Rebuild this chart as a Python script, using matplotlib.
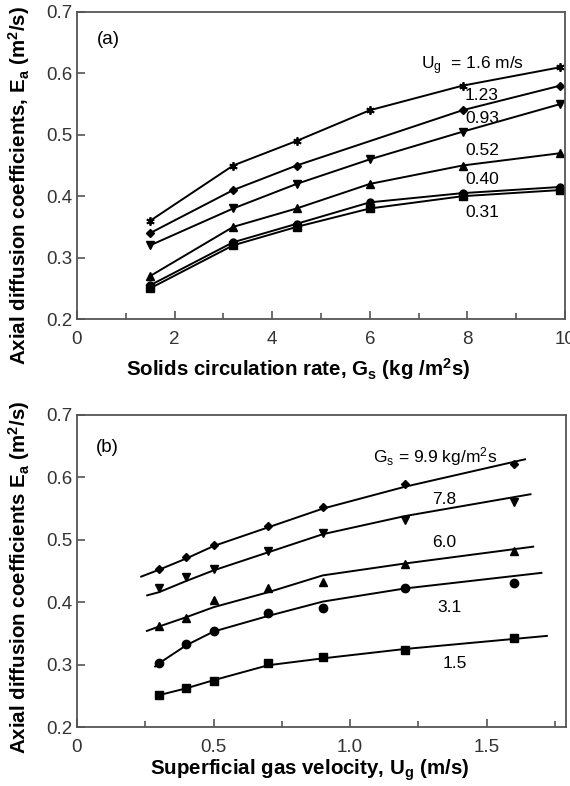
import numpy as np
import matplotlib
matplotlib.use('Agg')
import matplotlib.pyplot as plt

plt.rcParams['font.family'] = ['Liberation Sans', 'DejaVu Sans']
plt.rcParams['mathtext.default'] = 'regular'

# panel (a): Ea vs Gs for several Ug
gs_a = [1.5, 3.2, 4.5, 6.0, 7.9, 9.9]
ea_16 = [0.36, 0.45, 0.49, 0.54, 0.58, 0.61]
gs_123 = [1.5, 3.2, 4.5, 7.9, 9.9]
ea_123 = [0.34, 0.41, 0.45, 0.54, 0.58]
ea_093 = [0.32, 0.38, 0.42, 0.46, 0.505, 0.55]
ea_052 = [0.27, 0.35, 0.38, 0.42, 0.45, 0.47]
ea_040 = [0.255, 0.325, 0.355, 0.39, 0.405, 0.415]
ea_031 = [0.25, 0.32, 0.35, 0.38, 0.40, 0.41]
labels_a = ['U$_g$  = 1.6 m/s', '1.23', '0.93', '0.52', '0.40', '0.31']
label_a_y = [0.612, 0.564, 0.527, 0.475, 0.428, 0.373]

# panel (b): Ea vs Ug for several Gs (points + fitted curves)
ug_b = [0.3, 0.4, 0.5, 0.7, 0.9, 1.2, 1.6]
pts_99 = [0.453, 0.473, 0.492, 0.522, 0.552, 0.590, 0.621]
pts_78 = [0.422, 0.440, 0.453, 0.482, 0.511, 0.532, 0.561]
pts_60 = [0.362, 0.374, 0.404, 0.422, 0.433, 0.462, 0.482]
pts_31 = [0.303, 0.333, 0.354, 0.382, 0.391, 0.423, 0.431]
pts_15 = [0.252, 0.262, 0.273, 0.303, 0.312, 0.324, 0.343]

fit_x_99 = [0.235, 0.3, 0.4, 0.5, 0.7, 0.9, 1.2, 1.64]
fit_y_99 = [0.441, 0.452, 0.470, 0.490, 0.520, 0.550, 0.585, 0.629]
fit_x_78 = [0.257, 0.3, 0.4, 0.5, 0.7, 0.9, 1.2, 1.66]
fit_y_78 = [0.411, 0.416, 0.434, 0.451, 0.480, 0.509, 0.538, 0.573]
fit_x_60 = [0.256, 0.3, 0.4, 0.5, 0.7, 0.9, 1.2, 1.67]
fit_y_60 = [0.354, 0.361, 0.376, 0.392, 0.416, 0.443, 0.462, 0.489]
fit_x_31 = [0.286, 0.3, 0.4, 0.5, 0.7, 0.9, 1.2, 1.70]
fit_y_31 = [0.297, 0.302, 0.331, 0.353, 0.378, 0.401, 0.422, 0.447]
fit_x_15 = [0.29, 0.3, 0.4, 0.5, 0.7, 0.9, 1.2, 1.72]
fit_y_15 = [0.249, 0.251, 0.262, 0.275, 0.299, 0.310, 0.325, 0.346]
labels_b = ['G$_s$ = 9.9 kg/m$^2$s', '7.8', '6.0', '3.1', '1.5']
label_b_x = [1.085, 1.30, 1.30, 1.32, 1.34]
label_b_y = [0.633, 0.564, 0.496, 0.392, 0.302]

fig = plt.figure(figsize=(5.7, 7.86), dpi=100)
ax1 = fig.add_axes([77/570, 1-319/786, 488/570, 307/786])
ax2 = fig.add_axes([77/570, 1-727/786, 489/570, 312/786])

spine_col = '#555555'
tick_col = '#333333'

def style(ax, xlim, xmaj, xmin):
  ax.set_xlim(*xlim)
  ax.set_ylim(0.2, 0.7)
  ax.set_xticks(xmaj)
  ax.set_xticks(xmin, minor=True)
  ax.set_yticks([0.2, 0.3, 0.4, 0.5, 0.6, 0.7])
  for s in ax.spines.values():
    s.set_color(spine_col)
    s.set_linewidth(1.3)
  ax.tick_params(which='both', direction='in', top=False, right=False,
                 colors=spine_col, labelcolor=tick_col, labelsize=13.5, width=1.2)
  ax.tick_params(which='major', length=6)
  ax.tick_params(which='minor', length=4)
  ax.tick_params(axis='x', pad=9)
  ax.tick_params(axis='y', pad=3)

lw = 1.4
ax1.plot(gs_a, ea_16, '-', color='k', lw=lw, marker=(6, 2, 0), ms=6, mew=1.3)
ax1.plot(gs_123, ea_123, '-D', color='k', lw=lw, ms=4)
ax1.plot(gs_a, ea_093, '-v', color='k', lw=lw, ms=5.5)
ax1.plot(gs_a, ea_052, '-^', color='k', lw=lw, ms=5.5)
ax1.plot(gs_a, ea_040, '-o', color='k', lw=lw, ms=5)
ax1.plot(gs_a, ea_031, '-s', color='k', lw=lw, ms=5.5)
for i, lab in enumerate(labels_a):
  x0 = 7.05 if i == 0 else 7.95
  ax1.text(x0, label_a_y[i], lab, fontsize=12.5, va='center', ha='left')
ax1.text(0.4, 0.655, '(a)', fontsize=13.5, va='center')
style(ax1, (0, 10), [0, 2, 4, 6, 8, 10], [1, 3, 5, 7, 9])
ax1.set_xticklabels(['0', '2', '4', '6', '8', '10'])
ax1.set_xlabel('Solids circulation rate, G$_s$ (kg /m$^2$s)', fontsize=14.8,
               fontweight='bold')
ax1.set_ylabel('Axial diffusion coefficients, E$_a$ (m$^2$/s)', fontsize=14.8,
               fontweight='bold')
ax1.xaxis.set_label_coords(0.453, -0.12)
ax1.yaxis.set_label_coords(-0.093, 0.436)

ax2.plot(fit_x_99, fit_y_99, '-', color='k', lw=lw)
ax2.plot(fit_x_78, fit_y_78, '-', color='k', lw=lw)
ax2.plot(fit_x_60, fit_y_60, '-', color='k', lw=lw)
ax2.plot(fit_x_31, fit_y_31, '-', color='k', lw=lw)
ax2.plot(fit_x_15, fit_y_15, '-', color='k', lw=lw)
ax2.plot(ug_b, pts_99, 'D', color='k', ms=4)
ax2.plot(ug_b, pts_78, 'v', color='k', ms=5.5)
ax2.plot(ug_b, pts_60, '^', color='k', ms=5.5)
ax2.plot(ug_b, pts_31, 'o', color='k', ms=6)
ax2.plot(ug_b, pts_15, 's', color='k', ms=6)
for i, lab in enumerate(labels_b):
  ax2.text(label_b_x[i], label_b_y[i], lab, fontsize=12.5, va='center', ha='left')
ax2.text(0.07, 0.648, '(b)', fontsize=13.5, va='center')
style(ax2, (0, 1.79), [0, 0.5, 1.0, 1.5], [0.25, 0.75, 1.25, 1.75])
ax2.set_xticklabels(['0', '0.5', '1.0', '1.5'])
ax2.set_xlabel('Superficial gas velocity, U$_g$ (m/s)', fontsize=14.8,
               fontweight='bold')
ax2.set_ylabel('Axial diffusion coefficients E$_a$ (m$^2$/s)', fontsize=14.8,
               fontweight='bold')
ax2.xaxis.set_label_coords(0.476, -0.097)
ax2.yaxis.set_label_coords(-0.093, 0.478)

fig.savefig('out.png', dpi=100)
